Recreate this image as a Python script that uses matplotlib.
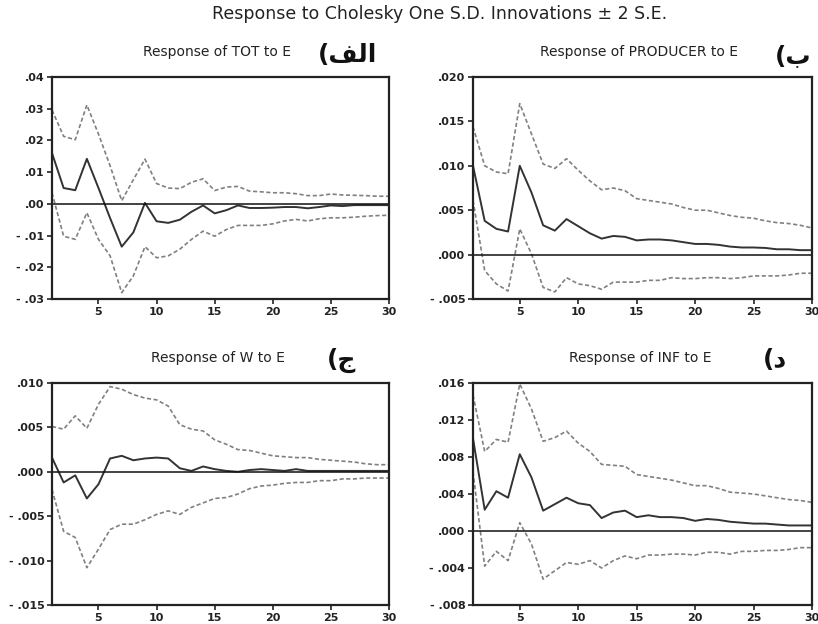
import numpy as np
import matplotlib
matplotlib.use('Agg')
import matplotlib.pyplot as plt
from matplotlib.ticker import FuncFormatter

plt.rcParams['font.family'] = ['DejaVu Sans']

periods = list(range(1, 31))

# Response of TOT to E
tot_mid = [0.016, 0.005, 0.0043, 0.0142, 0.005, -0.0045, -0.0135, -0.009, 0.0003, -0.0055,
           -0.006, -0.005, -0.0025, -0.0005, -0.003, -0.002, -0.0005, -0.0013, -0.0013, -0.0012,
           -0.001, -0.001, -0.0014, -0.001, -0.0005, -0.0007, -0.0004, -0.0004, -0.0004, -0.0004]
tot_hi = [0.0296, 0.0213, 0.0202, 0.0312, 0.022, 0.012, 0.001, 0.0076, 0.0141, 0.0064,
          0.005, 0.0048, 0.0068, 0.0079, 0.0042, 0.0053, 0.0055, 0.004, 0.0038, 0.0035,
          0.0035, 0.0032, 0.0026, 0.0026, 0.0031, 0.0028, 0.0027, 0.0026, 0.0024, 0.0024]
tot_lo = [0.0035, -0.0102, -0.0112, -0.0028, -0.0112, -0.0164, -0.028, -0.0227, -0.0135, -0.017,
          -0.0164, -0.0143, -0.0112, -0.0086, -0.0102, -0.0081, -0.0068, -0.0068, -0.0068, -0.0063,
          -0.0054, -0.0049, -0.0054, -0.0047, -0.0044, -0.0044, -0.0042, -0.0039, -0.0037, -0.0036]

# Response of PRODUCER to E
prod_mid = [0.010, 0.0038, 0.0029, 0.0026, 0.010, 0.007, 0.0033, 0.0027, 0.004, 0.0032,
            0.0024, 0.0018, 0.0021, 0.002, 0.0016, 0.0017, 0.0017, 0.0016, 0.0014, 0.0012,
            0.0012, 0.0011, 0.0009, 0.0008, 0.0008, 0.00075, 0.0006, 0.0006, 0.0005, 0.0005]
prod_hi = [0.0144, 0.010, 0.0093, 0.0091, 0.017, 0.0136, 0.0102, 0.0097, 0.0108, 0.0095,
           0.0083, 0.0073, 0.0075, 0.0072, 0.0063, 0.0061, 0.0059, 0.0057, 0.0053, 0.005,
           0.005, 0.0047, 0.0044, 0.0042, 0.0041, 0.0038, 0.0036, 0.0035, 0.0033, 0.003]
prod_lo = [0.0061, -0.0018, -0.0033, -0.0041, 0.0029, 0.0001, -0.0037, -0.0042, -0.0026, -0.0033,
           -0.0035, -0.0039, -0.0031, -0.0031, -0.0031, -0.0029, -0.0029, -0.0026, -0.0027, -0.0027,
           -0.0026, -0.0026, -0.0027, -0.0026, -0.0024, -0.0024, -0.0024, -0.0023, -0.0021, -0.0021]

# Response of W to E
w_mid = [0.0016, -0.0012, -0.0004, -0.003, -0.0014, 0.0015, 0.0018, 0.0013, 0.0015, 0.0016,
         0.0015, 0.0004, 0.0001, 0.0006, 0.0003, 0.0001, 0.0, 0.0002, 0.0003, 0.0002,
         0.0001, 0.0003, 0.0001, 0.0001, 0.0001, 0.0001, 0.0001, 0.0001, 0.0001, 0.0001]
w_hi = [0.0051, 0.0048, 0.0063, 0.0049, 0.0076, 0.0096, 0.0093, 0.0087, 0.0083, 0.0081,
        0.0074, 0.0053, 0.0048, 0.0046, 0.0036, 0.0031, 0.0025, 0.0024, 0.0021, 0.0018,
        0.0017, 0.0016, 0.0016, 0.0014, 0.0013, 0.0012, 0.0011, 0.0009, 0.0008, 0.0008]
w_lo = [-0.002, -0.0067, -0.0074, -0.0108, -0.0087, -0.0065, -0.0059, -0.0059, -0.0054, -0.0048,
        -0.0044, -0.0048, -0.004, -0.0035, -0.003, -0.0029, -0.0025, -0.0019, -0.0016, -0.0015,
        -0.0013, -0.0012, -0.0012, -0.001, -0.001, -0.0008, -0.0008, -0.0007, -0.0007, -0.0007]

# Response of INF to E
inf_mid = [0.010, 0.0023, 0.0043, 0.0036, 0.0083, 0.0058, 0.0022, 0.0029, 0.0036, 0.003,
           0.0028, 0.0014, 0.002, 0.0022, 0.0015, 0.0017, 0.0015, 0.0015, 0.0014, 0.0011,
           0.0013, 0.0012, 0.001, 0.0009, 0.0008, 0.0008, 0.0007, 0.0006, 0.0006, 0.0006]
inf_hi = [0.0147, 0.0086, 0.0099, 0.0096, 0.0159, 0.0132, 0.0097, 0.0101, 0.0108, 0.0095,
          0.0086, 0.0072, 0.0071, 0.007, 0.0061, 0.0059, 0.0057, 0.0055, 0.0052, 0.0049,
          0.0049, 0.0046, 0.0042, 0.0041, 0.004, 0.0038, 0.0036, 0.0034, 0.0033, 0.0031]
inf_lo = [0.0064, -0.0038, -0.0022, -0.0032, 0.0009, -0.0014, -0.0052, -0.0043, -0.0034, -0.0036,
          -0.0032, -0.004, -0.0032, -0.0027, -0.003, -0.0026, -0.0026, -0.0025, -0.0025, -0.0026,
          -0.0023, -0.0023, -0.0025, -0.0022, -0.0022, -0.0021, -0.0021, -0.002, -0.0018, -0.0018]

titles = ['Response of TOT to E', 'Response of PRODUCER to E',
          'Response of W to E', 'Response of INF to E']
# Arabic panel letters (presentation forms, visual order)
letters = ['(\ufed2\ufedf\ufe8d', '(\ufe8f', '(\ufe9d', '(\ufea9']
ylims = [(-0.03, 0.04), (-0.005, 0.020), (-0.015, 0.010), (-0.008, 0.016)]
ysteps = [0.01, 0.005, 0.005, 0.004]
ydec = [2, 3, 3, 3]
series = [(tot_mid, tot_hi, tot_lo), (prod_mid, prod_hi, prod_lo),
          (w_mid, w_hi, w_lo), (inf_mid, inf_hi, inf_lo)]

fig = plt.figure(figsize=(8.18, 6.24), dpi=100)
fig.text(0.537, 0.977, 'Response to Cholesky One S.D. Innovations \u00b1 2 S.E.',
         ha='center', va='center', fontsize=12.5, color='#222222')

W, H = 818, 624
boxes = [(52, 77, 389, 299), (473, 77, 812, 299), (52, 383, 389, 605), (473, 383, 812, 605)]
title_pos = [(217, 52), (639, 52), (218, 358), (640, 358)]
letter_pos = [(348, 55), (793, 56), (342, 360), (775, 360)]

def make_fmt(d):
    def f(v, pos):
        s = f'{v:.{d}f}'
        s = s.replace('0.', '.', 1)
        return s.replace('-', '- ')
    return f

for i in range(4):
    x0, y0, x1, y1 = boxes[i]
    ax = fig.add_axes([x0 / W, 1 - y1 / H, (x1 - x0) / W, (y1 - y0) / H])
    mid, hi, lo = series[i]
    ax.plot(periods, hi, color='#808080', lw=1.2, ls=(0, (2.5, 1.5)))
    ax.plot(periods, lo, color='#808080', lw=1.2, ls=(0, (2.5, 1.5)))
    ax.plot(periods, mid, color='#333333', lw=1.4)
    ax.axhline(0, color='#111111', lw=1.1)
    ax.set_xlim(1, 30)
    ax.set_ylim(*ylims[i])
    ax.set_xticks([5, 10, 15, 20, 25, 30])
    ax.set_yticks(np.arange(ylims[i][0], ylims[i][1] + ysteps[i] / 2, ysteps[i]))
    ax.yaxis.set_major_formatter(FuncFormatter(make_fmt(ydec[i])))
    ax.tick_params(labelsize=8, length=3.5, width=1.2, direction='out', colors='#222222', pad=2)
    for lab in ax.get_xticklabels() + ax.get_yticklabels():
        lab.set_fontweight('bold')
    for sp in ax.spines.values():
        sp.set_linewidth(1.6)
        sp.set_color('#222222')
    tx, ty = title_pos[i]
    fig.text(tx / W, 1 - ty / H, titles[i], ha='center', va='center', fontsize=10, color='#222222')
    lx, ly = letter_pos[i]
    fig.text(lx / W, 1 - ly / H, letters[i], ha='center', va='center', fontsize=18,
             fontweight='bold', color='#111111')

fig.savefig('out.png', dpi=100)
